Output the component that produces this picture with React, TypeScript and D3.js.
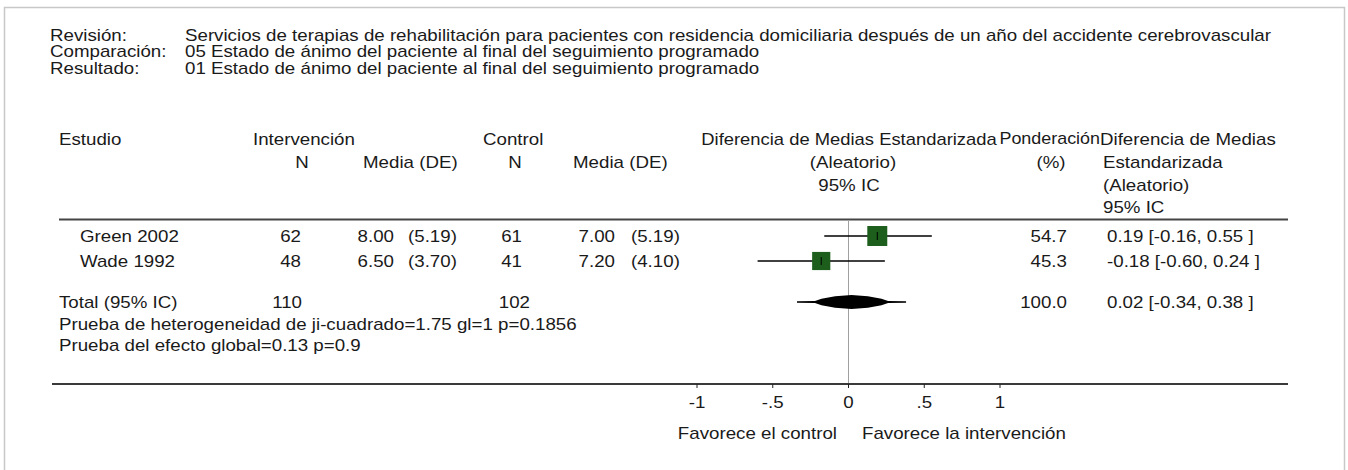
import React from "react";
import * as d3 from "d3";

// ---------- data ----------
const headerLabels = ["Revisión:", "Comparación:", "Resultado:"];
const headerValues = [
  "Servicios de terapias de rehabilitación para pacientes con residencia domiciliaria después de un año del accidente cerebrovascular",
  "05 Estado de ánimo del paciente al final del seguimiento programado",
  "01 Estado de ánimo del paciente al final del seguimiento programado",
];
const studies = ["Green 2002", "Wade 1992"];
const intN = [62, 48];
const intMean = ["8.00", "6.50"];
const intSD = ["(5.19)", "(3.70)"];
const ctlN = [61, 41];
const ctlMean = ["7.00", "7.20"];
const ctlSD = ["(5.19)", "(4.10)"];
const smd = [0.19, -0.18];
const ciLo = [-0.16, -0.6];
const ciHi = [0.55, 0.24];
const weights = [54.7, 45.3];
const ciText = ["0.19 [-0.16, 0.55 ]", "-0.18 [-0.60, 0.24 ]"];
const totalLabel = "Total (95% IC)";
const totalIntN = 110;
const totalCtlN = 102;
const totalSmd = 0.02;
const totalLo = -0.34;
const totalHi = 0.38;
const totalWeight = "100.0";
const totalCiText = "0.02 [-0.34, 0.38 ]";
const testLines = [
  "Prueba de heterogeneidad de ji-cuadrado=1.75 gl=1 p=0.1856",
  "Prueba del efecto global=0.13 p=0.9",
];
const ticks = [-1, -0.5, 0, 0.5, 1];
const tickLabels = ["-1", "-.5", "0", ".5", "1"];
const favorLabels = ["Favorece el control", "Favorece la intervención"];

// ---------- layout ----------
const W = 1348;
const H = 470;
const FS = 16;
const SX = 1.17;
const FONT = "'Liberation Sans', Arial, Helvetica, sans-serif";
const TXT = "#1a1a1a";

const T = ({ x, y, anchor = "start", sx = SX, children }: any) => (
  <text
    x={x}
    y={y}
    textAnchor={anchor}
    transform={`translate(${x},${y}) scale(${sx},1) translate(${-x},${-y})`}
    fontSize={FS}
    fontFamily={FONT}
    fill={TXT}
    dominantBaseline="central"
  >
    {children}
  </text>
);

// concave diamond profile (fraction from tip -> half height fraction)
const profile: [number, number][] = [
  [0, 0.1],
  [0.33, 0.16],
  [0.45, 0.45],
  [0.7, 0.82],
  [1, 1],
];

export default function App() {
  const x = d3.scaleLinear().domain([-1, 1]).range([697, 1000]);
  const sq = d3.scaleSqrt().domain([0, 100]).range([0, 27]);

  const hdrY = [35, 52, 68];
  const colY = [139, 162, 185, 207];
  const sepY = 219.5;
  const rowY = [236, 261];
  const totY = 302;
  const testY = [324, 345];
  const axisY = 384;
  const dh = 7;

  const dx = x(totalSmd);
  const L = x(totalLo);
  const R = x(totalHi);
  const top: [number, number][] = [];
  profile.forEach(([f, h]) => top.push([L + f * (dx - L), totY - h * dh]));
  [...profile].reverse().forEach(([f, h]) => top.push([R - f * (R - dx), totY - h * dh]));
  const bottom = top.map(([px, py]) => [px, 2 * totY - py] as [number, number]).reverse();
  const diamond = [...top, ...bottom].map((p) => p.join(",")).join(" ");

  return (
    <svg
      width={W}
      height={H}
      style={{ position: "absolute", left: 0, top: 0, background: "#fff" }}
    >
      <rect x={0} y={0} width={W} height={H} fill="#fff" />
      <rect x={4.5} y={7.5} width={1340} height={480} fill="none" stroke="#c8c8c8" strokeWidth={1.5} />

      {headerLabels.map((l, i) => (
        <T key={"hl" + i} x={50} y={hdrY[i]}>{l}</T>
      ))}
      {headerValues.map((l, i) => (
        <T key={"hv" + i} x={185} y={hdrY[i]}>{l}</T>
      ))}

      {/* column headers */}
      <T x={59} y={colY[0]}>Estudio</T>
      <T x={253} y={colY[0]}>Intervención</T>
      <T x={302} y={colY[1]} anchor="middle">N</T>
      <T x={363} y={colY[1]}>Media (DE)</T>
      <T x={483} y={colY[0]}>Control</T>
      <T x={515} y={colY[1]} anchor="middle">N</T>
      <T x={573} y={colY[1]}>Media (DE)</T>
      <T x={849} y={colY[0]} anchor="middle" sx={1.15}>Diferencia de Medias Estandarizada</T>
      <T x={853} y={colY[1]} anchor="middle">(Aleatorio)</T>
      <T x={849} y={colY[2]} anchor="middle">95% IC</T>
      <T x={1100} y={colY[0]} anchor="end" sx={1.12}>Ponderación</T>
      <T x={1051} y={colY[1]} anchor="middle">(%)</T>
      <T x={1100} y={colY[0]}>Diferencia de Medias</T>
      <T x={1103} y={colY[1]}>Estandarizada</T>
      <T x={1103} y={colY[2]}>(Aleatorio)</T>
      <T x={1103} y={colY[3]}>95% IC</T>

      <line x1={59} x2={1288} y1={sepY} y2={sepY} stroke="#444" strokeWidth={2} />

      {/* zero line */}
      <line x1={x(0)} x2={x(0)} y1={sepY + 1} y2={axisY} stroke="#a0a0a0" strokeWidth={1} />

      {studies.map((s, i) => {
        const y = rowY[i];
        const size = sq(weights[i]);
        return (
          <g key={s}>
            <T x={80} y={y}>{s}</T>
            <T x={301} y={y} anchor="end">{intN[i]}</T>
            <T x={394} y={y} anchor="end">{intMean[i]}</T>
            <T x={408} y={y}>{intSD[i]}</T>
            <T x={522} y={y} anchor="end">{ctlN[i]}</T>
            <T x={615} y={y} anchor="end">{ctlMean[i]}</T>
            <T x={631} y={y}>{ctlSD[i]}</T>
            <line x1={x(ciLo[i])} x2={x(ciHi[i])} y1={y} y2={y} stroke="#000" strokeWidth={1.3} />
            <rect x={x(smd[i]) - size / 2} y={y - size / 2} width={size} height={size} fill="#1d5e1d" />
            <line x1={x(smd[i])} x2={x(smd[i])} y1={y - 4} y2={y + 4} stroke="#000" strokeWidth={1} />
            <T x={1067} y={y} anchor="end">{weights[i].toFixed(1)}</T>
            <T x={1107} y={y}>{ciText[i]}</T>
          </g>
        );
      })}

      <T x={59} y={totY}>{totalLabel}</T>
      <T x={302} y={totY} anchor="end">{totalIntN}</T>
      <T x={530} y={totY} anchor="end">{totalCtlN}</T>
      <polygon points={diamond} fill="#000" />
      <T x={1067} y={totY} anchor="end">{totalWeight}</T>
      <T x={1107} y={totY}>{totalCiText}</T>
      {testLines.map((l, i) => (
        <T key={"t" + i} x={59} y={testY[i]}>{l}</T>
      ))}

      {/* axis */}
      <line x1={52} x2={1288} y1={axisY} y2={axisY} stroke="#3a3a3a" strokeWidth={2} />
      {ticks.map((t, i) => (
        <g key={"tk" + i}>
          <line x1={x(t)} x2={x(t)} y1={axisY} y2={axisY + 4} stroke="#222" strokeWidth={1} />
          <T x={x(t)} y={axisY + 18} anchor="middle">{tickLabels[i]}</T>
        </g>
      ))}
      <T x={837} y={433} anchor="end">{favorLabels[0]}</T>
      <T x={862} y={433}>{favorLabels[1]}</T>
    </svg>
  );
}
